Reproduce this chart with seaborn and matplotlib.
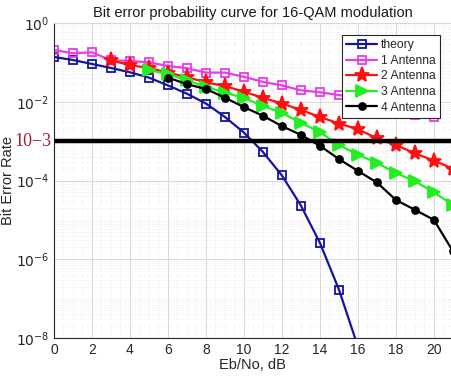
#!/usr/bin/env python3
"""BER curves for 16-QAM with 1..4 receive antennas (log scale)."""

import matplotlib
matplotlib.use("Agg")
import matplotlib.pyplot as plt
import matplotlib.transforms as mtransforms
import numpy as np
import pandas as pd
import seaborn as sns

# data
theory_snr = list(range(0, 17))
theory_ber = [0.137, 0.115, 0.091, 0.072, 0.056, 0.041, 0.026, 0.016, 0.0090,
              0.0041, 1.65e-3, 5.3e-4, 1.34e-4, 2.3e-5, 2.6e-6, 1.7e-7, 6e-9]

ant1_snr = list(range(0, 21))
ant1_ber = [0.206, 0.17, 0.18, 0.113, 0.109, 0.100, 0.081, 0.071, 0.055, 0.055,
            0.043, 0.032, 0.026, 0.0195, 0.0174, 0.0148, 0.012, 0.0095, 0.0075,
            4.6e-3, 4.2e-3]

ant2_snr = list(range(3, 22))
ant2_ber = [0.113, 0.085, 0.072, 0.055, 0.042, 0.031, 0.025, 0.018, 0.0126,
            0.0090, 0.0062, 0.0041, 0.0028, 0.0020, 1.18e-3, 8.0e-4, 4.9e-4,
            3.2e-4, 2.0e-4]

ant3_snr = list(range(5, 22))
ant3_ber = [0.064, 0.050, 0.035, 0.024, 0.017, 0.0125, 0.0078, 0.0052, 0.0029,
            0.0017, 8.0e-4, 4.5e-4, 2.8e-4, 1.55e-4, 9.6e-5, 5.0e-5, 2.4e-5]

ant4_snr = list(range(6, 22))
ant4_ber = [0.041, 0.028, 0.021, 0.0127, 0.0073, 0.0044, 0.0024, 1.44e-3,
            7.6e-4, 3.5e-4, 1.75e-4, 8.9e-5, 3.2e-5, 1.8e-5, 1.0e-5, 1.6e-6]

labels = ["theory", "1 Antenna", "2 Antenna", "3 Antenna", "4 Antenna"]
threshold = 1e-3

TITLE = "Bit error probability curve for 16-QAM modulation"


def main():
    sns.set_style("white")
    plt.rcParams["font.family"] = ["Liberation Sans", "DejaVu Sans"]
    plt.rcParams["mathtext.fontset"] = "dejavusans"

    fig = plt.figure(figsize=(4.51, 3.79), dpi=100)
    ax = fig.add_axes([54 / 451, 1 - 338 / 379, (451 - 54) / 451, (338 - 23) / 379])

    series = [
        (theory_snr, theory_ber, "#1414a0", "s", "none", 5.2, 1.6),
        (ant1_snr, ant1_ber, "#e83ce8", "s", "none", 5.2, 1.6),
        (ant2_snr, ant2_ber, "#ff1010", "*", "#ff1010", 11, 1.6),
        (ant3_snr, ant3_ber, "#22ee22", ">", "#22ee22", 9, 1.6),
        (ant4_snr, ant4_ber, "#000000", "o", "#000000", 5, 1.6),
    ]
    for (x, y, color, marker, face, ms, lw), label in zip(series, labels):
        df = pd.DataFrame({"snr": x, "ber": y})
        sns.lineplot(data=df, x="snr", y="ber", ax=ax, color=color, marker=marker,
                     markersize=ms, markerfacecolor=face, markeredgecolor=color,
                     markeredgewidth=1.3, linewidth=lw, label=label)

    ax.axhline(threshold, color="black", linewidth=3.2, zorder=5)

    ax.set_yscale("log")
    ax.set_ylim(1e-8, 1)
    ax.set_xlim(0, 20.9)
    ax.set_xticks(np.arange(0, 21, 2))
    ax.set_xticks(np.arange(0, 21, 0.5), minor=True)
    ax.set_yticks([10.0 ** k for k in range(-8, 1, 2)])
    ax.set_yticks([10.0 ** k for k in range(-8, 1)] +
                  [m * 10.0 ** k for k in range(-8, 0) for m in range(2, 10)],
                  minor=True)
    ax.set_yticklabels([r"$10^{%d}$" % k for k in range(-8, 1, 2)])
    ax.yaxis.set_minor_formatter(matplotlib.ticker.NullFormatter())

    ax.grid(True, which="major", color="#d8d8d8", linewidth=0.7)
    ax.grid(True, which="minor", color="#e6e6e6", linewidth=0.5, linestyle=":")
    ax.set_axisbelow(True)
    ax.tick_params(axis="both", which="both", direction="in", labelsize=10,
                   colors="#262626", length=3)
    ax.tick_params(axis="both", which="minor", length=1.5)
    for side in ("left", "bottom"):
        ax.spines[side].set_color("#262626")
        ax.spines[side].set_linewidth(0.8)
    ax.spines["right"].set_visible(False)
    ax.spines["top"].set_color("#d8d8d8")

    ax.set_title(TITLE, fontsize=10.5, color="#1a1a1a", pad=4)
    ax.set_xlabel("Eb/No, dB", fontsize=10.5, color="#262626", labelpad=1)
    ax.set_ylabel("Bit Error Rate", fontsize=10.5, color="#262626")
    ax.yaxis.set_label_coords(-0.098, 0.5)

    trans = mtransforms.blended_transform_factory(ax.transAxes, ax.transData)
    ax.text(-0.005, threshold, "10\u22123", transform=trans, ha="right",
            va="center", fontsize=13, color="#a02030",
            family=["Liberation Serif", "DejaVu Serif"])

    leg = ax.legend(loc="upper right", bbox_to_anchor=(0.972, 0.962), fontsize=8.7,
                    frameon=True, fancybox=False, framealpha=1,
                    edgecolor="#262626", handlelength=2.6, borderpad=0.35,
                    labelspacing=0.3, handletextpad=0.3, borderaxespad=0)
    leg.get_frame().set_linewidth(0.8)
    leg.set_zorder(10)

    fig.savefig("out.png", dpi=100)


if __name__ == "__main__":
    main()
